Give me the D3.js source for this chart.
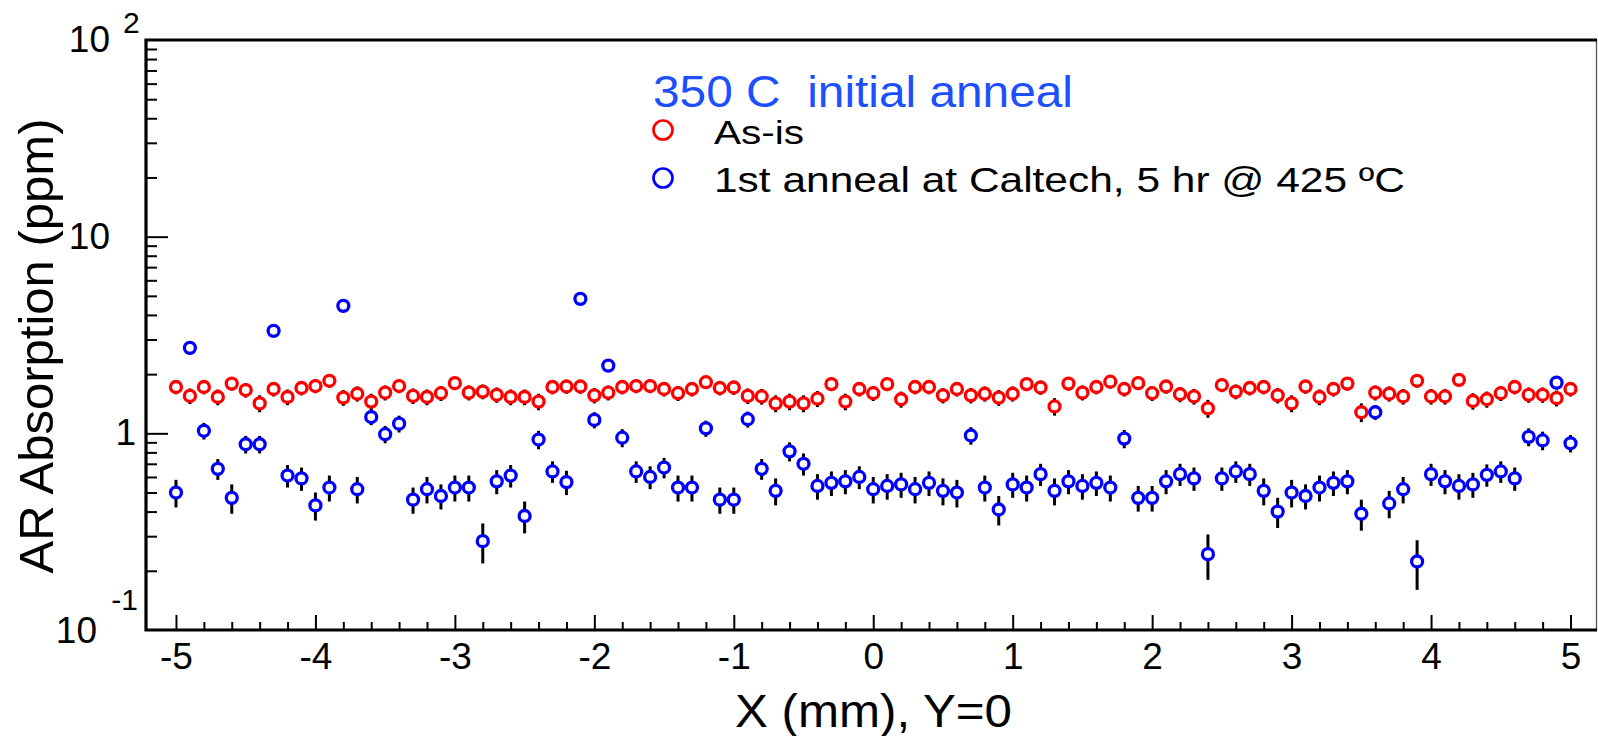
<!DOCTYPE html>
<html>
<head>
<meta charset="utf-8">
<script src="https://cdn.jsdelivr.net/npm/d3@7"></script>
<style>
  html, body { margin: 0; padding: 0; background: #fff; }
  svg { display: block; font-family: "Liberation Sans", Arial, Helvetica, sans-serif; }
</style>
</head>
<body>
<div id="chart"></div>
<script>
// scan positions X (mm) at Y=0
const xPositions = d3.range(-50, 51).map(i => i / 10);

// AR absorption (ppm), as-is
const asIs = [
  1.72, 1.55, 1.72, 1.53, 1.79, 1.66, 1.42, 1.68, 1.53, 1.70,
  1.74, 1.85, 1.52, 1.59, 1.45, 1.61, 1.74, 1.55, 1.53, 1.60,
  1.80, 1.61, 1.63, 1.57, 1.53, 1.53, 1.45, 1.72, 1.73, 1.73,
  1.56, 1.61, 1.72, 1.74, 1.74, 1.68, 1.60, 1.68, 1.82, 1.70,
  1.71, 1.55, 1.54, 1.42, 1.45, 1.42, 1.50, 1.78, 1.45, 1.68,
  1.60, 1.78, 1.49, 1.72, 1.72, 1.56, 1.68, 1.56, 1.59, 1.52,
  1.59, 1.78, 1.71, 1.37, 1.79, 1.61, 1.72, 1.83, 1.68, 1.80,
  1.60, 1.73, 1.58, 1.54, 1.34, 1.76, 1.63, 1.70, 1.72, 1.56,
  1.42, 1.73, 1.53, 1.68, 1.79, 1.28, 1.61, 1.59, 1.54, 1.85,
  1.54, 1.54, 1.87, 1.46, 1.49, 1.60, 1.72, 1.57, 1.57, 1.51,
  1.68
];
const asIsErr = 0.14;

// after 1st anneal at Caltech, 5 hr @ 425 C
const annealed = [
  0.50, 2.72, 1.03, 0.66, 0.47, 0.88, 0.88, 3.32, 0.61, 0.59,
  0.43, 0.53, 4.45, 0.52, 1.21, 0.99, 1.12, 0.46, 0.52, 0.48,
  0.53, 0.53, 0.283, 0.57, 0.61, 0.38, 0.93, 0.64, 0.565, 4.83,
  1.17, 2.21, 0.95, 0.64, 0.60, 0.67, 0.53, 0.53, 1.06, 0.46,
  0.46, 1.18, 0.66, 0.51, 0.81, 0.70, 0.54, 0.56, 0.57, 0.60,
  0.52, 0.54, 0.55, 0.52, 0.56, 0.51, 0.50, 0.975, 0.53, 0.41,
  0.55, 0.53, 0.62, 0.51, 0.57, 0.54, 0.56, 0.53, 0.94, 0.47,
  0.47, 0.57, 0.62, 0.59, 0.243, 0.59, 0.64, 0.62, 0.51, 0.40,
  0.50, 0.48, 0.53, 0.56, 0.57, 0.39, 1.28, 0.44, 0.52, 0.223,
  0.62, 0.57, 0.54, 0.55, 0.615, 0.64, 0.59, 0.96, 0.92, 1.81,
  0.89
];
const annealedErr = [
  0.08, 0.18, 0.10, 0.08, 0.08, 0.09, 0.09, 0.20, 0.08, 0.08,
  0.07, 0.08, 0.25, 0.08, 0.11, 0.10, 0.11, 0.07, 0.08, 0.07,
  0.08, 0.08, 0.065, 0.08, 0.08, 0.07, 0.10, 0.08, 0.08, 0.27,
  0.11, 0.16, 0.10, 0.08, 0.08, 0.08, 0.08, 0.08, 0.10, 0.07,
  0.07, 0.11, 0.08, 0.08, 0.09, 0.09, 0.08, 0.08, 0.08, 0.08,
  0.08, 0.08, 0.08, 0.08, 0.08, 0.08, 0.08, 0.10, 0.08, 0.07,
  0.08, 0.08, 0.08, 0.08, 0.08, 0.08, 0.08, 0.08, 0.10, 0.07,
  0.07, 0.08, 0.08, 0.08, 0.063, 0.08, 0.08, 0.08, 0.08, 0.07,
  0.08, 0.07, 0.08, 0.08, 0.08, 0.07, 0.11, 0.07, 0.08, 0.063,
  0.08, 0.08, 0.08, 0.08, 0.08, 0.08, 0.08, 0.10, 0.10, 0.14,
  0.09
];

const xMajorTicks = [-5, -4, -3, -2, -1, 0, 1, 2, 3, 4, 5];
const xMinorTicks = d3.range(-24, 25).filter(i => i % 5 !== 0).map(i => i / 5);
const yMajorTicks = [1, 10];
const yMinorTicks = [0.2, 0.3, 0.4, 0.5, 0.6, 0.7, 0.8, 0.9, 2, 3, 4, 5, 6, 7, 8, 9, 20, 30, 40, 50, 60, 70, 80, 90];
const yTickLabels = [
  { value: 100, base: "10", exp: "2" },
  { value: 10, base: "10", exp: "" },
  { value: 1, base: "1", exp: "" },
  { value: 0.1, base: "10", exp: "-1" }
];

const headerText = "350 C  initial anneal";
const seriesNames = ["As-is", "1st anneal at Caltech, 5 hr @ 425 \u00baC"];
const seriesColors = ["#ff0000", "#0000ff"];

// layout
const width = 1598, height = 736;
const plot = { left: 146, right: 1597, top: 40, bottom: 630 };

const svg = d3.select("#chart").append("svg")
    .attr("width", width)
    .attr("height", height);

const x = d3.scaleLinear()
    .domain([-5.215, 5.19])
    .range([plot.left, plot.right]);

const y = d3.scaleLog()
    .domain([0.1, 100])
    .range([plot.bottom, plot.top]);

// X axis ticks + labels
svg.append("g")
    .attr("transform", `translate(0, ${plot.bottom})`)
    .call(d3.axisBottom(x).tickValues(xMinorTicks).tickSize(-8).tickFormat(""))
    .call(g => g.select(".domain").remove())
    .selectAll("line").attr("stroke", "#000").attr("stroke-width", 2);

svg.append("g")
    .attr("transform", `translate(0, ${plot.bottom})`)
    .call(d3.axisBottom(x).tickValues(xMajorTicks).tickSize(-15).tickPadding(13).tickFormat(d => String(d)))
    .call(g => g.select(".domain").remove())
    .call(g => g.selectAll("line").attr("stroke", "#000").attr("stroke-width", 2))
    .call(g => g.selectAll("text")
        .attr("fill", "#000")
        .style("font-size", "37px")
        .style("font-family", "'Liberation Sans', Arial, sans-serif"));

// Y axis ticks
svg.append("g")
    .attr("transform", `translate(${plot.left}, 0)`)
    .call(d3.axisRight(y).tickValues(yMinorTicks).tickSize(11).tickFormat(""))
    .call(g => g.select(".domain").remove())
    .selectAll("line").attr("stroke", "#000").attr("stroke-width", 2);

svg.append("g")
    .attr("transform", `translate(${plot.left}, 0)`)
    .call(d3.axisRight(y).tickValues(yMajorTicks).tickSize(22).tickFormat(""))
    .call(g => g.select(".domain").remove())
    .selectAll("line").attr("stroke", "#000").attr("stroke-width", 2);

// Y tick labels (ROOT style 10^n)
yTickLabels.forEach(t => {
  const yy = y(t.value);
  const bottomLabel = t.value === 0.1;
  svg.append("text")
      .attr("x", bottomLabel ? 97 : (t.base === "1" ? 136 : 110))
      .attr("y", yy + (bottomLabel ? 13 : 12))
      .attr("text-anchor", "end")
      .style("font-size", "37px")
      .text(t.base);
  if (t.exp) {
    svg.append("text")
        .attr("x", bottomLabel ? 138 : 123)
        .attr("y", bottomLabel ? yy - 20 : yy - 7)
        .attr("text-anchor", bottomLabel ? "end" : "start")
        .style("font-size", "30px")
        .text(t.exp);
  }
});

// frame
svg.append("line").attr("x1", plot.right - 0.5).attr("x2", plot.right - 0.5)
    .attr("y1", plot.top).attr("y2", plot.bottom)
    .attr("stroke", "#555").attr("stroke-width", 1.3);
svg.append("path")
    .attr("d", `M${plot.right},${plot.top}H${plot.left}V${plot.bottom}H${plot.right}`)
    .attr("fill", "none")
    .attr("stroke", "#000")
    .attr("stroke-width", 3.2)
    .attr("stroke-linejoin", "miter");

// axis titles
svg.append("text")
    .attr("transform", `translate(53, 346) rotate(-90)`)
    .attr("text-anchor", "middle")
    .attr("textLength", 455)
    .attr("lengthAdjust", "spacingAndGlyphs")
    .style("font-size", "48px")
    .text("AR Absorption (ppm)");

svg.append("text")
    .attr("x", 735)
    .attr("y", 727)
    .attr("textLength", 277)
    .attr("lengthAdjust", "spacingAndGlyphs")
    .style("font-size", "46px")
    .text("X (mm), Y=0");

// data
const series = [
  { name: seriesNames[0], color: seriesColors[0], values: asIs, errs: asIs.map(() => asIsErr) },
  { name: seriesNames[1], color: seriesColors[1], values: annealed, errs: annealedErr }
];

const clampY = v => Math.max(plot.top, Math.min(plot.bottom, v));

series.forEach(s => {
  const pts = xPositions.map((xv, i) => ({ x: xv, v: s.values[i], e: s.errs[i] }));
  const g = svg.append("g");
  g.selectAll("line.err")
      .data(pts)
      .enter().append("line")
      .attr("class", "err")
      .attr("x1", d => x(d.x))
      .attr("x2", d => x(d.x))
      .attr("y1", d => clampY(y(d.v + d.e)))
      .attr("y2", d => clampY(y(Math.max(d.v - d.e, 0.1))))
      .attr("stroke", "#000")
      .attr("stroke-width", 3);
  g.selectAll("circle")
      .data(pts)
      .enter().append("circle")
      .attr("cx", d => x(d.x))
      .attr("cy", d => y(d.v))
      .attr("r", 5.5)
      .attr("fill", "#fff")
      .attr("stroke", s.color)
      .attr("stroke-width", 3.3);
});

// legend
svg.append("text")
    .attr("x", 653)
    .attr("y", 106.5)
    .attr("textLength", 420)
    .attr("lengthAdjust", "spacingAndGlyphs")
    .style("white-space", "pre")
    .style("font-size", "44px")
    .attr("fill", "#1c50ff")
    .text(headerText);

const legendRows = [
  { cy: 130, ty: 144, len: 90, size: 34 },
  { cy: 178, ty: 192, len: 691, size: 35 }
];
series.forEach((s, i) => {
  const row = legendRows[i];
  svg.append("circle")
      .attr("cx", 663)
      .attr("cy", row.cy)
      .attr("r", 9.5)
      .attr("fill", "none")
      .attr("stroke", s.color)
      .attr("stroke-width", 2.7);
  svg.append("text")
      .attr("x", 714)
      .attr("y", row.ty)
      .attr("textLength", row.len)
      .attr("lengthAdjust", "spacingAndGlyphs")
      .style("font-size", row.size + "px")
      .attr("fill", "#000")
      .text(s.name);
});
</script>
</body>
</html>
